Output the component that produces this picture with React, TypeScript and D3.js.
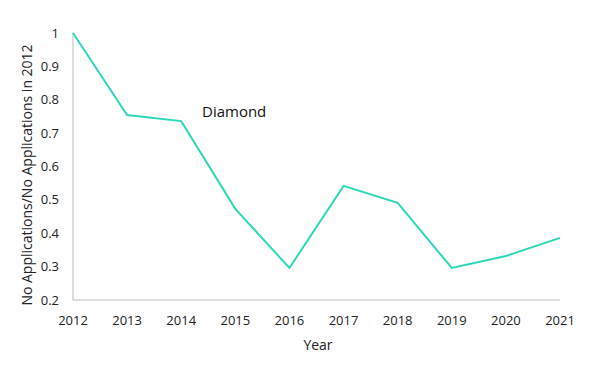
import { useRef, useEffect } from "react";
import * as d3 from "d3";

const years = [2012, 2013, 2014, 2015, 2016, 2017, 2018, 2019, 2020, 2021];
const ratio = [1, 0.754, 0.736, 0.473, 0.296, 0.542, 0.491, 0.296, 0.332, 0.386];
const yTicks = [0.2, 0.3, 0.4, 0.5, 0.6, 0.7, 0.8, 0.9, 1];
const seriesName = "Diamond";

export default function App() {
  const svgRef = useRef(null);
  const width = 601;
  const height = 375;

  function renderChart() {
    const svg = d3.select(svgRef.current);
    svg.selectAll("*").remove();
    const font = "'Open Sans', sans-serif";

    const x = d3.scaleLinear().domain([2012, 2021]).range([73, 560]);
    const y = d3.scaleLinear().domain([0.2, 1]).range([300, 33]);

    // axis lines
    svg.append("line")
      .attr("x1", x(2012)).attr("x2", x(2021))
      .attr("y1", y(0.2)).attr("y2", y(0.2))
      .attr("stroke", "#bfbfbf").attr("stroke-width", 1);
    svg.append("line")
      .attr("x1", x(2012)).attr("x2", x(2012))
      .attr("y1", y(0.2)).attr("y2", y(1))
      .attr("stroke", "#bfbfbf").attr("stroke-width", 1);

    svg.selectAll(".ytick")
      .data(yTicks)
      .join("text")
      .attr("class", "ytick")
      .attr("x", 59)
      .attr("y", (d) => y(d))
      .attr("dy", "0.35em")
      .attr("text-anchor", "end")
      .attr("font-family", font)
      .attr("font-size", 13)
      .attr("fill", "#222")
      .text((d) => d3.format("~g")(d));

    svg.selectAll(".xtick")
      .data(years)
      .join("text")
      .attr("class", "xtick")
      .attr("x", (d) => x(d))
      .attr("y", 320)
      .attr("dy", "0.35em")
      .attr("text-anchor", "middle")
      .attr("font-family", font)
      .attr("font-size", 13)
      .attr("fill", "#222")
      .text((d) => String(d));

    const line = d3.line<number>()
      .x((_, i) => x(years[i]))
      .y((d) => y(d));

    svg.append("path")
      .datum(ratio)
      .attr("d", line)
      .attr("fill", "none")
      .attr("stroke", "#2bd9b9")
      .attr("stroke-width", 2);

    svg.append("text")
      .attr("x", 202)
      .attr("y", 117)
      .attr("font-family", font)
      .attr("font-size", 15)
      .attr("fill", "#111")
      .text(seriesName);

    svg.append("text")
      .attr("x", 318)
      .attr("y", 350)
      .attr("text-anchor", "middle")
      .attr("font-family", font)
      .attr("font-size", 14)
      .attr("fill", "#222")
      .text("Year");

    svg.append("text")
      .attr("transform", "translate(32,175) rotate(-90)")
      .attr("text-anchor", "middle")
      .attr("font-family", font)
      .attr("font-size", 14)
      .attr("fill", "#222")
      .text("No Applications/No Applications in 2012");
  }

  useEffect(() => {
    renderChart();
  }, []);

  return (
    <div style={{ position: "absolute", left: 0, top: 0 }}>
      <svg ref={svgRef} width={width} height={height} style={{ display: "block", background: "#fff" }} />
    </div>
  );
}
